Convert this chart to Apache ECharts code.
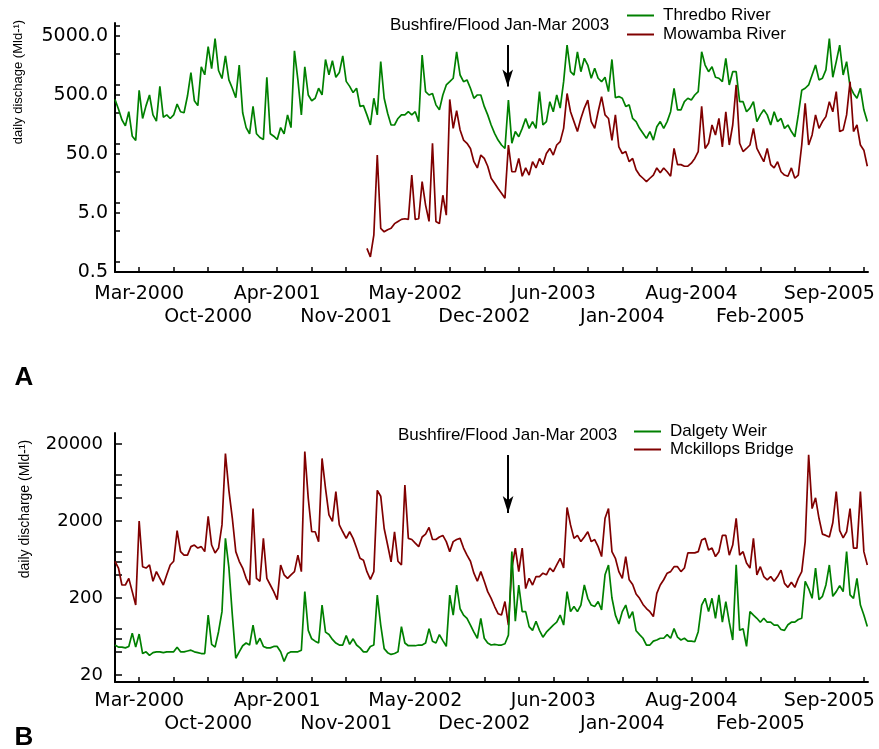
<!DOCTYPE html>
<html>
<head>
<meta charset="utf-8">
<script src="https://cdn.jsdelivr.net/npm/echarts@6/dist/echarts.min.js"></script>
<style>
html, body { margin: 0; padding: 0; background: #fff; }
#chart { width: 879px; height: 749px; }
</style>
</head>
<body>
<div id="chart"></div>
<script>
// one reading every 10 days, day 0 = the Mar-2000 tick
const firstDay = -70;
const dayStep = 10;
const mowambaFirstDay = 660;

const xTickLabels = ['Mar-2000', 'Oct-2000', 'Apr-2001', 'Nov-2001', 'May-2002', 'Dec-2002',
  'Jun-2003', 'Jan-2004', 'Aug-2004', 'Feb-2005', 'Sep-2005'];
const xTickDays = [0, 100, 200, 300, 400, 500, 600, 700, 800, 900, 1000,
  1100, 1200, 1300, 1400, 1500, 1600, 1700, 1800, 1900, 2000, 2100];
// labels alternate between two rows
const xRow1Days = [0, 400, 800, 1200, 1600, 2000];
const xRow2Days = [200, 600, 1000, 1400, 1800];

const yLabelsA = ['0.5', '5.0', '50.0', '500.0', '5000.0'];
const yMajorA = [0.5, 5, 50, 500, 5000];
const yMinorA = [0.75, 2.5, 7.5, 25, 75, 250, 750, 2500, 7500];
const yLabelsB = ['20', '200', '2000', '20000'];
const yMajorB = [20, 200, 2000, 20000];
const yMinorB = [40, 60, 80, 400, 600, 800, 4000, 6000, 8000];

// daily discharge (Ml/d)
const thredbo = [
  420, 290, 190, 150, 260, 100, 85, 600, 200, 330,
  500, 230, 180, 700, 210, 230, 200, 230, 350, 260,
  250, 480, 1200, 400, 330, 1500, 1100, 3300, 1400, 4500,
  1300, 950, 2300, 900, 650, 450, 1600, 250, 140, 110,
  320, 110, 95, 88, 1000, 110, 100, 88, 140, 110,
  230, 140, 2800, 900, 230, 1500, 500, 400, 440, 650,
  500, 2000, 1100, 1900, 1000, 1200, 2300, 850, 700, 550,
  650, 320, 330, 230, 155, 440, 230, 1840, 440, 245,
  155, 155, 200, 230, 230, 260, 230, 260, 177, 2380,
  570, 500, 530, 340, 280, 500, 740, 840, 960, 2700,
  1090, 840, 900, 650, 440, 500, 500, 320, 230, 155,
  112, 86, 71, 62, 410, 76, 120, 98, 136, 200,
  136, 177, 136, 570, 155, 177, 385, 260, 500, 300,
  840, 3500, 1240, 1090, 2700, 1240, 2090, 1610, 960, 1420,
  960, 840, 1000, 570, 2000, 450, 470, 440, 320, 340,
  200, 177, 136, 112, 92, 120, 86, 145, 177, 136,
  177, 260, 650, 280, 280, 385, 440, 410, 500, 570,
  2700, 1610, 1240, 1500, 1000, 960, 840, 2090, 740, 1240,
  1240, 385, 385, 260, 300, 385, 177, 230, 280, 230,
  155, 260, 177, 200, 136, 155, 120, 98, 230, 600,
  650, 740, 1090, 1610, 900, 960, 1330, 4500, 1000, 1840,
  3500, 1090, 1840, 700, 530, 440, 650, 280, 177
];
const mowamba = [
  1.26, 0.9, 2.1, 48, 2.75, 2.4, 2.6,
  2.75, 3.3, 3.6, 3.9, 4.0, 3.9, 22, 3.9, 4.0, 17,
  6.8, 3.6, 76, 3.6, 3.3, 10, 4.6, 420, 136, 270,
  128, 86, 76, 62, 37, 29, 48, 42, 31, 19.4,
  16, 13, 10.8, 8.9, 71, 25, 25, 42, 21, 29,
  22, 37, 29, 42, 33, 51, 62, 48, 71, 81,
  136, 530, 260, 177, 120, 200, 300, 410, 177, 136,
  260, 470, 230, 200, 85, 230, 66, 51, 55, 37,
  42, 27, 22, 19.4, 17, 19.4, 22, 29, 24, 29,
  25, 21, 62, 33, 33, 31, 31, 35, 42, 55,
  320, 62, 76, 155, 105, 200, 66, 260, 71, 155,
  740, 76, 55, 62, 71, 136, 62, 48, 37, 62,
  33, 29, 37, 25, 22, 21, 29, 19.4, 22, 71,
  360, 71, 105, 230, 136, 177, 215, 385, 260, 570,
  120, 128, 230, 840, 120, 155, 71, 58, 31
];
const dalgety = [
  49, 46, 46, 45, 47, 70, 46, 68, 38, 40,
  36, 39, 40, 40, 39, 40, 40, 40, 46, 40,
  40, 41, 42, 40, 39, 38, 38, 120, 50, 46,
  73, 133, 1190, 500, 120, 33, 40, 48, 52, 49,
  89, 50, 60, 47, 45, 45, 47, 47, 40, 30,
  38, 40, 40, 40, 42, 242, 76, 59, 55, 52,
  162, 72, 67, 58, 52, 49, 49, 65, 50, 59,
  49, 45, 40, 40, 47, 49, 218, 89, 44, 39,
  37, 38, 40, 85, 52, 48, 48, 48, 49, 49,
  52, 80, 55, 52, 67, 56, 47, 218, 120, 295,
  145, 120, 109, 89, 72, 60, 109, 60, 52, 49,
  50, 49, 49, 51, 66, 800, 100, 295, 133, 133,
  85, 76, 100, 76, 62, 72, 80, 89, 97, 120,
  89, 242, 133, 155, 133, 162, 295, 198, 162, 155,
  180, 140, 400, 537, 200, 120, 92, 133, 162, 109,
  133, 75, 67, 60, 49, 49, 55, 57, 60, 60,
  67, 60, 80, 62, 57, 60, 55, 55, 54, 73,
  162, 198, 133, 198, 109, 220, 97, 180, 97, 57,
  540, 76, 80, 47, 133, 120, 109, 97, 109, 97,
  97, 89, 89, 78, 76, 90, 97, 97, 105, 109,
  330, 265, 198, 490, 190, 210, 295, 537, 210, 242,
  290, 242, 800, 220, 198, 360, 162, 120, 85
];
const mckillops = [
  600, 490, 295, 295, 360, 242, 162, 2000, 510, 490,
  537, 330, 440, 360, 295, 400, 537, 600, 1500, 800,
  720, 720, 930, 975, 890, 930, 800, 2300, 975, 770,
  890, 1780, 15000, 5000, 2170, 800, 600, 490, 360, 295,
  2900, 360, 330, 1190, 360, 295, 242, 190, 537, 400,
  360, 400, 440, 720, 440, 16000, 3940, 1450, 1450, 1080,
  13000, 5300, 2400, 1980, 4810, 1780, 1450, 1190, 1450, 1190,
  890, 655, 620, 440, 350, 440, 5000, 4200, 1600, 975,
  590, 1450, 600, 537, 5870, 1190, 1150, 1030, 930, 1240,
  1350, 1650, 1150, 1150, 1240, 1300, 1080, 800, 1080, 1150,
  1190, 890, 720, 600, 420, 330, 440, 330, 242, 198,
  155, 125, 120, 180, 89, 490, 890, 440, 890, 265,
  360, 295, 380, 380, 420, 400, 490, 440, 537, 655,
  490, 3000, 1780, 1190, 1300, 1080, 1240, 1450, 1080, 1150,
  930, 690, 2170, 2900, 800, 655, 440, 360, 690, 345,
  300, 225, 198, 165, 146, 133, 115, 230, 295, 345,
  420, 440, 510, 510, 440, 490, 770, 770, 770, 800,
  1130, 1190, 840, 890, 690, 800, 1300, 1300, 720, 975,
  2170, 720, 800, 570, 490, 1190, 400, 510, 380, 345,
  380, 330, 380, 460, 310, 275, 320, 275, 360, 440,
  1080, 14500, 2900, 4000, 2170, 1350, 1300, 1240, 1900, 4810,
  1500, 1210, 1450, 2900, 890, 890, 4810, 800, 537
];

// log axes: panel A counted in decades above 0.5, panel B in decades above 20
const logA = v => Math.log10(v / 0.5);
const logB = v => Math.log10(v / 20);

function toSeries(values, start, f) {
  return values.map((v, i) => [start + i * dayStep, f(v)]);
}

const font = 'Liberation Sans, Arial, sans-serif';
const tickFont = 'DejaVu Sans, sans-serif';

// main x axis (line, ticks, first row of labels) or a bare axis for the second row
function xAxis(gridIndex, labelDays, margin, bare) {
  return {
    type: 'value', gridIndex: gridIndex, position: 'bottom', offset: 0, min: -70, max: 2112,
    axisLine: { show: !bare, onZero: false, lineStyle: { color: '#000', width: 2 } },
    axisTick: { show: !bare, inside: true, length: 5, customValues: xTickDays,
      lineStyle: { color: '#000', width: 1.5 } },
    axisLabel: {
      customValues: labelDays, margin: margin, color: '#000',
      showMinLabel: true, showMaxLabel: true, hideOverlap: false,
      fontFamily: tickFont, fontSize: 19,
      formatter: v => xTickLabels[Math.round(v / 200)]
    },
    splitLine: { show: false }
  };
}

function yAxis(gridIndex, min, max, majors, minors, labels, f, opts) {
  return {
    type: 'value', gridIndex: gridIndex, min: min, max: max,
    axisLine: { show: true, onZero: false, lineStyle: { color: '#000', width: 2 } },
    axisTick: { show: true, inside: true, length: opts.tick,
      customValues: majors.concat(minors).map(f),
      lineStyle: { color: '#000', width: 1.5 } },
    axisLabel: {
      customValues: majors.map(f), margin: opts.margin, color: '#000',
      showMinLabel: true, showMaxLabel: true,
      fontFamily: tickFont, fontSize: opts.size,
      formatter: v => labels[Math.round(v)]
    },
    splitLine: { show: false }
  };
}

function arrow(x, yTop, yEnd) {
  return {
    silent: true, symbol: ['none', 'arrow'],
    label: { show: false },
    lineStyle: { color: '#000', width: 2, type: 'solid' },
    emphasis: { disabled: true },
    data: [[{ coord: [x, yTop], symbolSize: 1 }, { coord: [x, yEnd], symbolSize: [8, 17] }]]
  };
}

function lineSeries(name, data, color, xIdx, yIdx, extra) {
  return Object.assign({
    name: name, type: 'line', xAxisIndex: xIdx, yAxisIndex: yIdx,
    data: data, symbol: 'none', showSymbol: false,
    lineStyle: { color: color, width: 1.7 }, itemStyle: { color: color },
    emphasis: { disabled: true }
  }, extra || {});
}

const legendText = { fontFamily: font, fontSize: 17, color: '#000', lineHeight: 17, padding: [0, 0, 0, 4] };

const chart = echarts.init(document.getElementById('chart'));
chart.setOption({
  animation: false,
  backgroundColor: '#fff',
  grid: [
    { left: 115, top: 23, width: 753, height: 249 },
    { left: 115, top: 433, width: 753, height: 249 }
  ],
  xAxis: [
    xAxis(0, xRow1Days, 13, false),
    xAxis(0, xRow2Days, 36, true),
    xAxis(1, xRow1Days, 10, false),
    xAxis(1, xRow2Days, 33, true)
  ],
  yAxis: [
    yAxis(0, 0, 4.22, yMajorA, yMinorA, yLabelsA, logA, { tick: 5, margin: 7, size: 19 }),
    yAxis(1, -0.091, 3.143, yMajorB, yMinorB, yLabelsB, logB, { tick: 7, margin: 12, size: 18 })
  ],
  legend: [
    { data: ['Thredbo River', 'Mowamba River'], orient: 'vertical', left: 627, top: 7,
      padding: 0, icon: 'rect', itemWidth: 27, itemHeight: 2, itemGap: 2, textStyle: legendText },
    { data: ['Dalgety Weir', 'Mckillops Bridge'], orient: 'vertical', left: 634, top: 423,
      padding: 0, icon: 'rect', itemWidth: 27, itemHeight: 2, itemGap: 1, textStyle: legendText }
  ],
  series: [
    lineSeries('Thredbo River', toSeries(thredbo, firstDay, logA), '#008000', 0, 0,
      { markLine: arrow(1068, 3.847, 3.144) }),
    lineSeries('Mowamba River', toSeries(mowamba, mowambaFirstDay, logA), '#800000', 0, 0),
    lineSeries('Mckillops Bridge', toSeries(mckillops, firstDay, logB), '#800000', 2, 1,
      { markLine: arrow(1069, 2.857, 2.104) }),
    lineSeries('Dalgety Weir', toSeries(dalgety, firstDay, logB), '#008000', 2, 1)
  ],
  graphic: [
    { type: 'text', x: 390, y: 25, style: { text: 'Bushfire/Flood Jan-Mar 2003', font: '17px ' + font,
      fill: '#000', align: 'left', verticalAlign: 'middle' } },
    { type: 'text', x: 398, y: 435, style: { text: 'Bushfire/Flood Jan-Mar 2003', font: '17px ' + font,
      fill: '#000', align: 'left', verticalAlign: 'middle' } },
    { type: 'text', x: 18, y: 82, rotation: Math.PI / 2, style: { text: 'daily dischage (Mld-\u00b9)',
      font: '13px ' + font, fill: '#000', align: 'center', verticalAlign: 'middle' } },
    { type: 'text', x: 25, y: 509, rotation: Math.PI / 2, style: { text: 'daily discharge (Mld-\u00b9)',
      font: '14px ' + font, fill: '#000', align: 'center', verticalAlign: 'middle' } },
    { type: 'text', x: 24, y: 378, style: { text: 'A', font: 'bold 26px ' + font,
      fill: '#000', align: 'center', verticalAlign: 'middle' } },
    { type: 'text', x: 24, y: 738, style: { text: 'B', font: 'bold 26px ' + font,
      fill: '#000', align: 'center', verticalAlign: 'middle' } }
  ]
});
</script>
</body>
</html>
